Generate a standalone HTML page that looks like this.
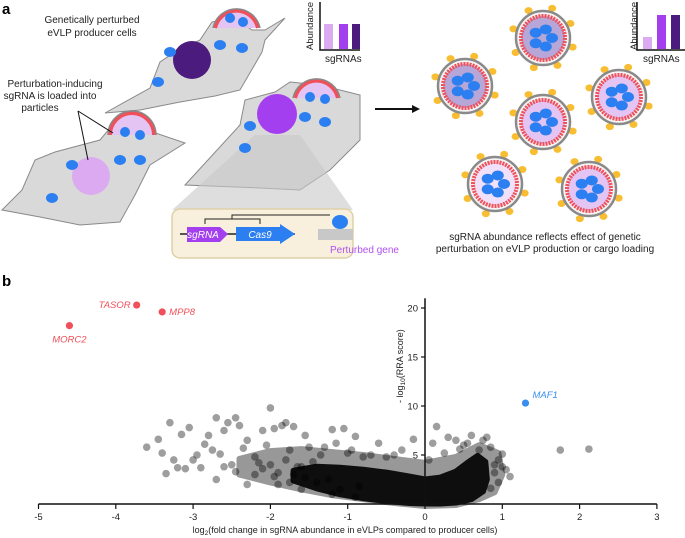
<!DOCTYPE html>
<html><head><meta charset="utf-8"><style>
body{margin:0;background:#fff;width:685px;height:538px;overflow:hidden;font-family:"Liberation Sans",sans-serif}
svg{display:block}
text{font-family:"Liberation Sans",sans-serif}
</style></head><body>
<svg id="fig" width="685" height="538" viewBox="0 0 685 538">
<g id="panelA">
<text x="2" y="14" font-size="15" font-weight="bold">a</text>
<path d="M105,113 L150,88 L160,62 L175,52 L200,40 L212,22 L235,18 L252,30 L265,30 L285,18 L265,40 L262,52 L240,90 L215,96 L180,102 L140,110 Z" fill="#d9d9d9" stroke="#8a8a8a" stroke-width="1"/>
<circle cx="192" cy="60" r="19" fill="#4b1c7d"/>
<path d="M2,210 L22,190 L35,160 L55,152 L100,140 L110,128 L135,126 L185,143 L150,165 L135,195 L120,222 L80,225 L40,217 Z" fill="#d9d9d9" stroke="#8a8a8a" stroke-width="1"/>
<circle cx="91" cy="176" r="19" fill="#dbaaf0"/>
<path d="M185,185 L240,125 L245,100 L275,92 L290,82 L320,85 L360,95 L360,140 L330,170 L300,190 L260,188 Z" fill="#d9d9d9" stroke="#8a8a8a" stroke-width="1"/>
<circle cx="277" cy="114" r="20" fill="#a43ff0"/>
<path d="M255,135 L300,135 L353,210 L172,210 Z" fill="#c8c8c8" opacity="0.6"/>
<g>
<path d="M215,28 A22,22 0 0 1 258,28" fill="#e4c4f2" stroke="#f0505a" stroke-width="4"/>
<path d="M213,28 A24,24 0 0 1 260,28" fill="none" stroke="#888" stroke-width="1.5"/>
<path d="M110,135 A22,22 0 0 1 154,135" fill="#e4c4f2" stroke="#f0505a" stroke-width="4"/>
<path d="M108,135 A24,24 0 0 1 156,135" fill="none" stroke="#888" stroke-width="1.5"/>
<path d="M295,98 A22,22 0 0 1 338,98" fill="#e4c4f2" stroke="#f0505a" stroke-width="4"/>
<path d="M293,98 A24,24 0 0 1 340,98" fill="none" stroke="#888" stroke-width="1.5"/>
</g>
<g fill="#2b7ff0">
<ellipse cx="170" cy="52" rx="6" ry="5"/><ellipse cx="220" cy="45" rx="6" ry="5"/><ellipse cx="242" cy="48" rx="6" ry="5"/><ellipse cx="158" cy="82" rx="6" ry="5"/>
<ellipse cx="230" cy="18" rx="5" ry="5"/><ellipse cx="243" cy="22" rx="5" ry="5"/>
<ellipse cx="125" cy="132" rx="5" ry="5"/><ellipse cx="140" cy="135" rx="5" ry="5"/>
<ellipse cx="72" cy="165" rx="6" ry="5"/><ellipse cx="120" cy="160" rx="6" ry="5"/><ellipse cx="140" cy="160" rx="6" ry="5"/><ellipse cx="52" cy="198" rx="6" ry="5"/>
<ellipse cx="250" cy="126" rx="6" ry="5"/><ellipse cx="245" cy="148" rx="6" ry="5"/><ellipse cx="305" cy="117" rx="6" ry="5"/><ellipse cx="325" cy="122" rx="6" ry="5"/><ellipse cx="310" cy="97" rx="5" ry="5"/><ellipse cx="325" cy="99" rx="5" ry="5"/>
</g>
<line x1="78" y1="111" x2="113" y2="133" stroke="#111"/><line x1="78" y1="111" x2="88" y2="160" stroke="#111"/>
<text x="92" y="23" font-size="10" text-anchor="middle" fill="#222"><tspan x="92">Genetically perturbed</tspan><tspan x="92" dy="13">eVLP producer cells</tspan></text>
<text x="55" y="87" font-size="10" text-anchor="middle" fill="#222"><tspan x="55">Perturbation-inducing</tspan><tspan x="50" dy="12">sgRNA is loaded into</tspan><tspan x="40" dy="12">particles</tspan></text>
<rect x="172" y="209" width="181" height="49" rx="8" fill="#f8f0dc" stroke="#ddd0a8" stroke-width="1.5"/>
<line x1="180" y1="234" x2="295" y2="234" stroke="#222" stroke-width="1.5"/>
<polygon points="187,227 220,227 228,234 220,242 187,242" fill="#a43ff0"/>
<text x="203" y="238" font-size="10" font-style="italic" fill="#fff" text-anchor="middle">sgRNA</text>
<polygon points="236,227 280,227 280,224 295,234 280,244 280,241 236,241" fill="#2b7ff0"/>
<text x="260" y="238" font-size="10" font-style="italic" fill="#fff" text-anchor="middle">Cas9</text>
<path d="M205,224 V219 H260 V224 M232,219 V215 H330" fill="none" stroke="#222" stroke-width="1"/>
<rect x="318" y="229" width="35" height="11" fill="#c8c8c8"/>
<ellipse cx="340" cy="222" rx="8" ry="7" fill="#2b7ff0"/>
<text x="330" y="253" font-size="10" fill="#b050f0">Perturbed gene</text>
<g>
<text transform="translate(313,50) rotate(-90)" font-size="9.5" fill="#222">Abundance</text>
<path d="M320,2 V50 H360" fill="none" stroke="#111" stroke-width="1.5"/>
<rect x="324" y="24" width="9" height="25" fill="#dbaaf0"/><rect x="339" y="24" width="9" height="25" fill="#a43ff0"/><rect x="352" y="24" width="8" height="25" fill="#4b1c7d"/>
<text x="325" y="62" font-size="10" fill="#222">sgRNAs</text>
</g>
<line x1="375" y1="109" x2="415" y2="109" stroke="#111" stroke-width="2"/>
<polygon points="420,109 412,105 412,113" fill="#111"/>
<g>
<g id="particles"></g>
</g>
<g>
<text transform="translate(637,50) rotate(-90)" font-size="9.5" fill="#222">Abundance</text>
<path d="M637,2 V50 H685" fill="none" stroke="#111" stroke-width="1.5"/>
<rect x="643" y="37" width="9" height="12" fill="#dbaaf0"/><rect x="657" y="15" width="9" height="34" fill="#a43ff0"/><rect x="671" y="15" width="9" height="34" fill="#4b1c7d"/>
<text x="643" y="62" font-size="10" fill="#222">sgRNAs</text>
</g>
<text x="545" y="240" font-size="10" text-anchor="middle" fill="#222"><tspan x="545">sgRNA abundance reflects effect of genetic</tspan><tspan x="545" dy="12">perturbation on eVLP production or cargo loading</tspan></text>
</g>

<g id="panelB">
<text x="2" y="286" font-size="15" font-weight="bold">b</text>
<g id="blob"></g>
<g id="pts"></g>
<g id="axes"></g>
</g>
</svg>
<script>
const NS="http://www.w3.org/2000/svg";
const partCenters=[[543,38],[465,86],[619,97],[543,122],[495,184],[589,189]];
const partFill=["#b7a6d8","#b7a6d8","#e3c4f3","#e3c4f3","#f0e0fa","#e3c4f3"];
const pg=document.getElementById('particles');
partCenters.forEach((c,i)=>{
  const g=document.createElementNS(NS,'g');
  
  
  let h='';
  for(let k=0;k<8;k++){const a=k*Math.PI/4+0.3;h+=`<ellipse cx="${c[0]+31*Math.cos(a)}" cy="${c[1]+31*Math.sin(a)}" rx="4" ry="3.5" fill="#f8bd30"/>`;}
  h+=`<circle cx="${c[0]}" cy="${c[1]}" r="27" fill="#f5f5f5" stroke="#8a8a8a" stroke-width="2.5"/>`;
  h+=`<circle cx="${c[0]}" cy="${c[1]}" r="22" fill="${partFill[i]}" stroke="#f0505a" stroke-width="4" stroke-dasharray="2 1"/>`;
  for(let k=0;k<5;k++){const a=k*2*Math.PI/5;h+=`<ellipse cx="${c[0]+9*Math.cos(a)}" cy="${c[1]+9*Math.sin(a)}" rx="6" ry="5" fill="#2b7ff0"/>`;}
  g.innerHTML=h;pg.appendChild(g);
});
// ---- volcano data
const bgX=[-3.6,-3.45,-3.3,-3.05,-3.15,-3.4,-3.25,-3.35,-3.1,-3.0,-2.85,-2.7,-2.55,-2.45,-2.4,-2.6,-2.8,-2.75,-2.65,-2.7,-2.6,-2.5,-2.0,-1.95,-1.85,-1.8,-1.7,-2.1,-1.55,-1.2,-1.05,-0.9,-0.6,-0.15,0.15,0.1,0.3,0.6,1.0,1.1,0.95,1.75,2.12,-2.2,-1.9,-2.3,-1.6,-1.3,-0.4,0.5,0.7,0.85,-0.8,-1.0,-2.35,-2.9,-2.2,-1.45,-2.05,-1.75,-1.5,-1.35,-1.15,-0.95,-0.7,-0.5,-0.3,0.05,0.25,0.4,0.55,0.8,0.9,-2.45,-2.15,-1.65,-1.25,-0.85,0.45,0.75,1.05,-3.2,-2.95,-2.3,-1.4,-2.0,-1.9,-1.8,-1.7,-1.6,-2.1,-1.95,-1.75,-1.55,0.9,0.95,0.85,1.0,-1.2,-1.1,-0.9];
const bgY=[5.8,6.6,8.3,7.8,7.1,5.2,4.5,3.1,3.6,4.5,6.1,8.8,8.3,8.8,8.0,7.5,7.0,5.5,5.1,2.5,3.8,4.0,9.8,7.7,8.0,8.3,7.9,7.5,7.0,7.6,7.7,6.9,6.2,6.6,7.9,6.2,6.8,7.0,5.1,2.8,4.5,5.5,5.6,3.0,2.0,2.0,1.5,5.8,5.0,6.0,5.5,5.8,4.8,5.2,5.7,3.7,4.8,4.3,6.0,5.5,5.8,5.0,6.2,5.5,5.0,4.8,5.5,4.5,5.2,6.5,6.2,6.8,4.0,3.3,4.2,3.8,2.5,1.8,5.6,6.5,3.5,3.7,5.0,6.5,2.2,4.0,3.2,4.5,3.0,3.8,3.6,2.8,2.2,2.7,3.2,2.2,1.6,3.8,1.0,1.5,0.7];
const fringeX=[-2.4,-2.0,-1.6,-1.2,-0.8,-0.4,0,0.4,0.7,0.95,1.0,0.9,0.7,0.4,0,-0.4,-0.8,-1.2,-1.6,-2.0,-2.4];
const fringeY=[4.6,5.4,5.6,5.3,5.0,4.6,4.2,4.8,6.0,5.2,3.0,1.2,0.5,-0.1,-0.2,0.1,0.5,0.9,1.5,2.2,3.0];
const envX=[-1.7,-1.4,-1.1,-0.8,-0.5,-0.2,0,0.2,0.4,0.55,0.68,0.78,0.8,0.75,0.6,0.4,0.2,0,-0.2,-0.5,-0.8,-1.1,-1.4,-1.7];
const envY=[3.4,3.8,3.7,3.5,3.2,2.8,2.5,2.7,3.3,4.2,4.9,4.3,2.5,1.3,0.5,0.15,0.05,0.05,0.1,0.3,0.6,1.0,1.6,2.4];
const hitNames=["TASOR","MPP8","MORC2","MAF1"];
const hitX=[-3.73,-3.4,-4.6,1.3];
const hitY=[20.3,19.6,18.2,10.3];
const xTicks=[-5,-4,-3,-2,-1,0,1,2,3];
const yTicks=[5,10,15,20];
const X=v=>425+(v)*77.3;
const Y=v=>504-v*9.8;
const blob=document.getElementById('blob');
function area(xs,ys,fill,op,sw,name){
  const p=document.createElementNS(NS,'path');
  p.setAttribute('d','M'+xs.map((x,i)=>X(x)+','+Y(ys[i])).join(' L')+' Z');
  p.setAttribute('fill',fill);p.setAttribute('opacity',op);p.setAttribute('stroke',fill);
  p.setAttribute('stroke-width',sw);p.setAttribute('stroke-linejoin','round');
  
  
  blob.appendChild(p);
}
area(fringeX,fringeY,'#000',0.4,6,'point-cloud-fringe');
area(envX,envY,'#000',0.9,6,'dense-point-cloud');
const pts=document.getElementById('pts');
bgX.forEach((x,i)=>{
  const c=document.createElementNS(NS,'circle');
  c.setAttribute('cx',X(x));c.setAttribute('cy',Y(bgY[i]));c.setAttribute('r',3.8);
  c.setAttribute('fill','#000');c.setAttribute('fill-opacity','0.38');
  
  
  pts.appendChild(c);
});
hitNames.forEach((n,i)=>{
  const col=n==="MAF1"?"#3a8ef0":"#f0505a";
  const c=document.createElementNS(NS,'circle');
  c.setAttribute('cx',X(hitX[i]));c.setAttribute('cy',Y(hitY[i]));c.setAttribute('r',3.6);c.setAttribute('fill',col);
  
  
  pts.appendChild(c);
  const t=document.createElementNS(NS,'text');
  let tx=X(hitX[i])+7,ty=Y(hitY[i])+3,anchor='start';
  if(n==="TASOR"){tx=X(hitX[i])-6;anchor='end';}
  if(n==="MORC2"){tx=X(hitX[i]);ty=Y(hitY[i])+17;anchor='middle';}
  if(n==="MAF1"){ty=Y(hitY[i])-5;}
  t.setAttribute('x',tx);t.setAttribute('y',ty);t.setAttribute('text-anchor',anchor);
  t.setAttribute('font-size','9.5');t.setAttribute('font-style','italic');t.setAttribute('fill',col);
  t.textContent=n;
  
  
  pts.appendChild(t);
});
const ax=document.getElementById('axes');
let h=`<line x1="${X(-5)}" y1="504" x2="${X(3)}" y2="504" stroke="#111" stroke-width="1.5"/>`;
h+=`<line x1="${X(0)}" y1="${Y(21)}" x2="${X(0)}" y2="504" stroke="#111" stroke-width="1.5"/>`;
xTicks.forEach(v=>{h+=`<line x1="${X(v)}" y1="504" x2="${X(v)}" y2="509" stroke="#111" stroke-width="1.2"/><text x="${X(v)}" y="520" font-size="9.5" text-anchor="middle" fill="#222">${v}</text>`;});
yTicks.forEach(v=>{h+=`<line x1="${X(0)-4}" y1="${Y(v)}" x2="${X(0)}" y2="${Y(v)}" stroke="#111" stroke-width="1.2"/><text x="${X(0)-7}" y="${Y(v)+3.5}" font-size="9.5" text-anchor="end" fill="#222">${v}</text>`;});
ax.innerHTML=h;
const xl=document.createElementNS(NS,'text');
xl.setAttribute('x',345);xl.setAttribute('y',533);xl.setAttribute('font-size','9');xl.setAttribute('text-anchor','middle');xl.setAttribute('fill','#222');
xl.innerHTML='log<tspan font-size="6.5" dy="2">2</tspan><tspan dy="-2">(fold change in sgRNA abundance in eVLPs compared to producer cells)</tspan>';


ax.appendChild(xl);
const yl=document.createElementNS(NS,'text');
yl.setAttribute('transform','translate(403,403) rotate(-90)');yl.setAttribute('font-size','9');yl.setAttribute('fill','#222');
yl.innerHTML='- log<tspan font-size="6.5" dy="2">10</tspan><tspan dy="-2">(RRA score)</tspan>';


ax.appendChild(yl);
</script>
</body></html>
